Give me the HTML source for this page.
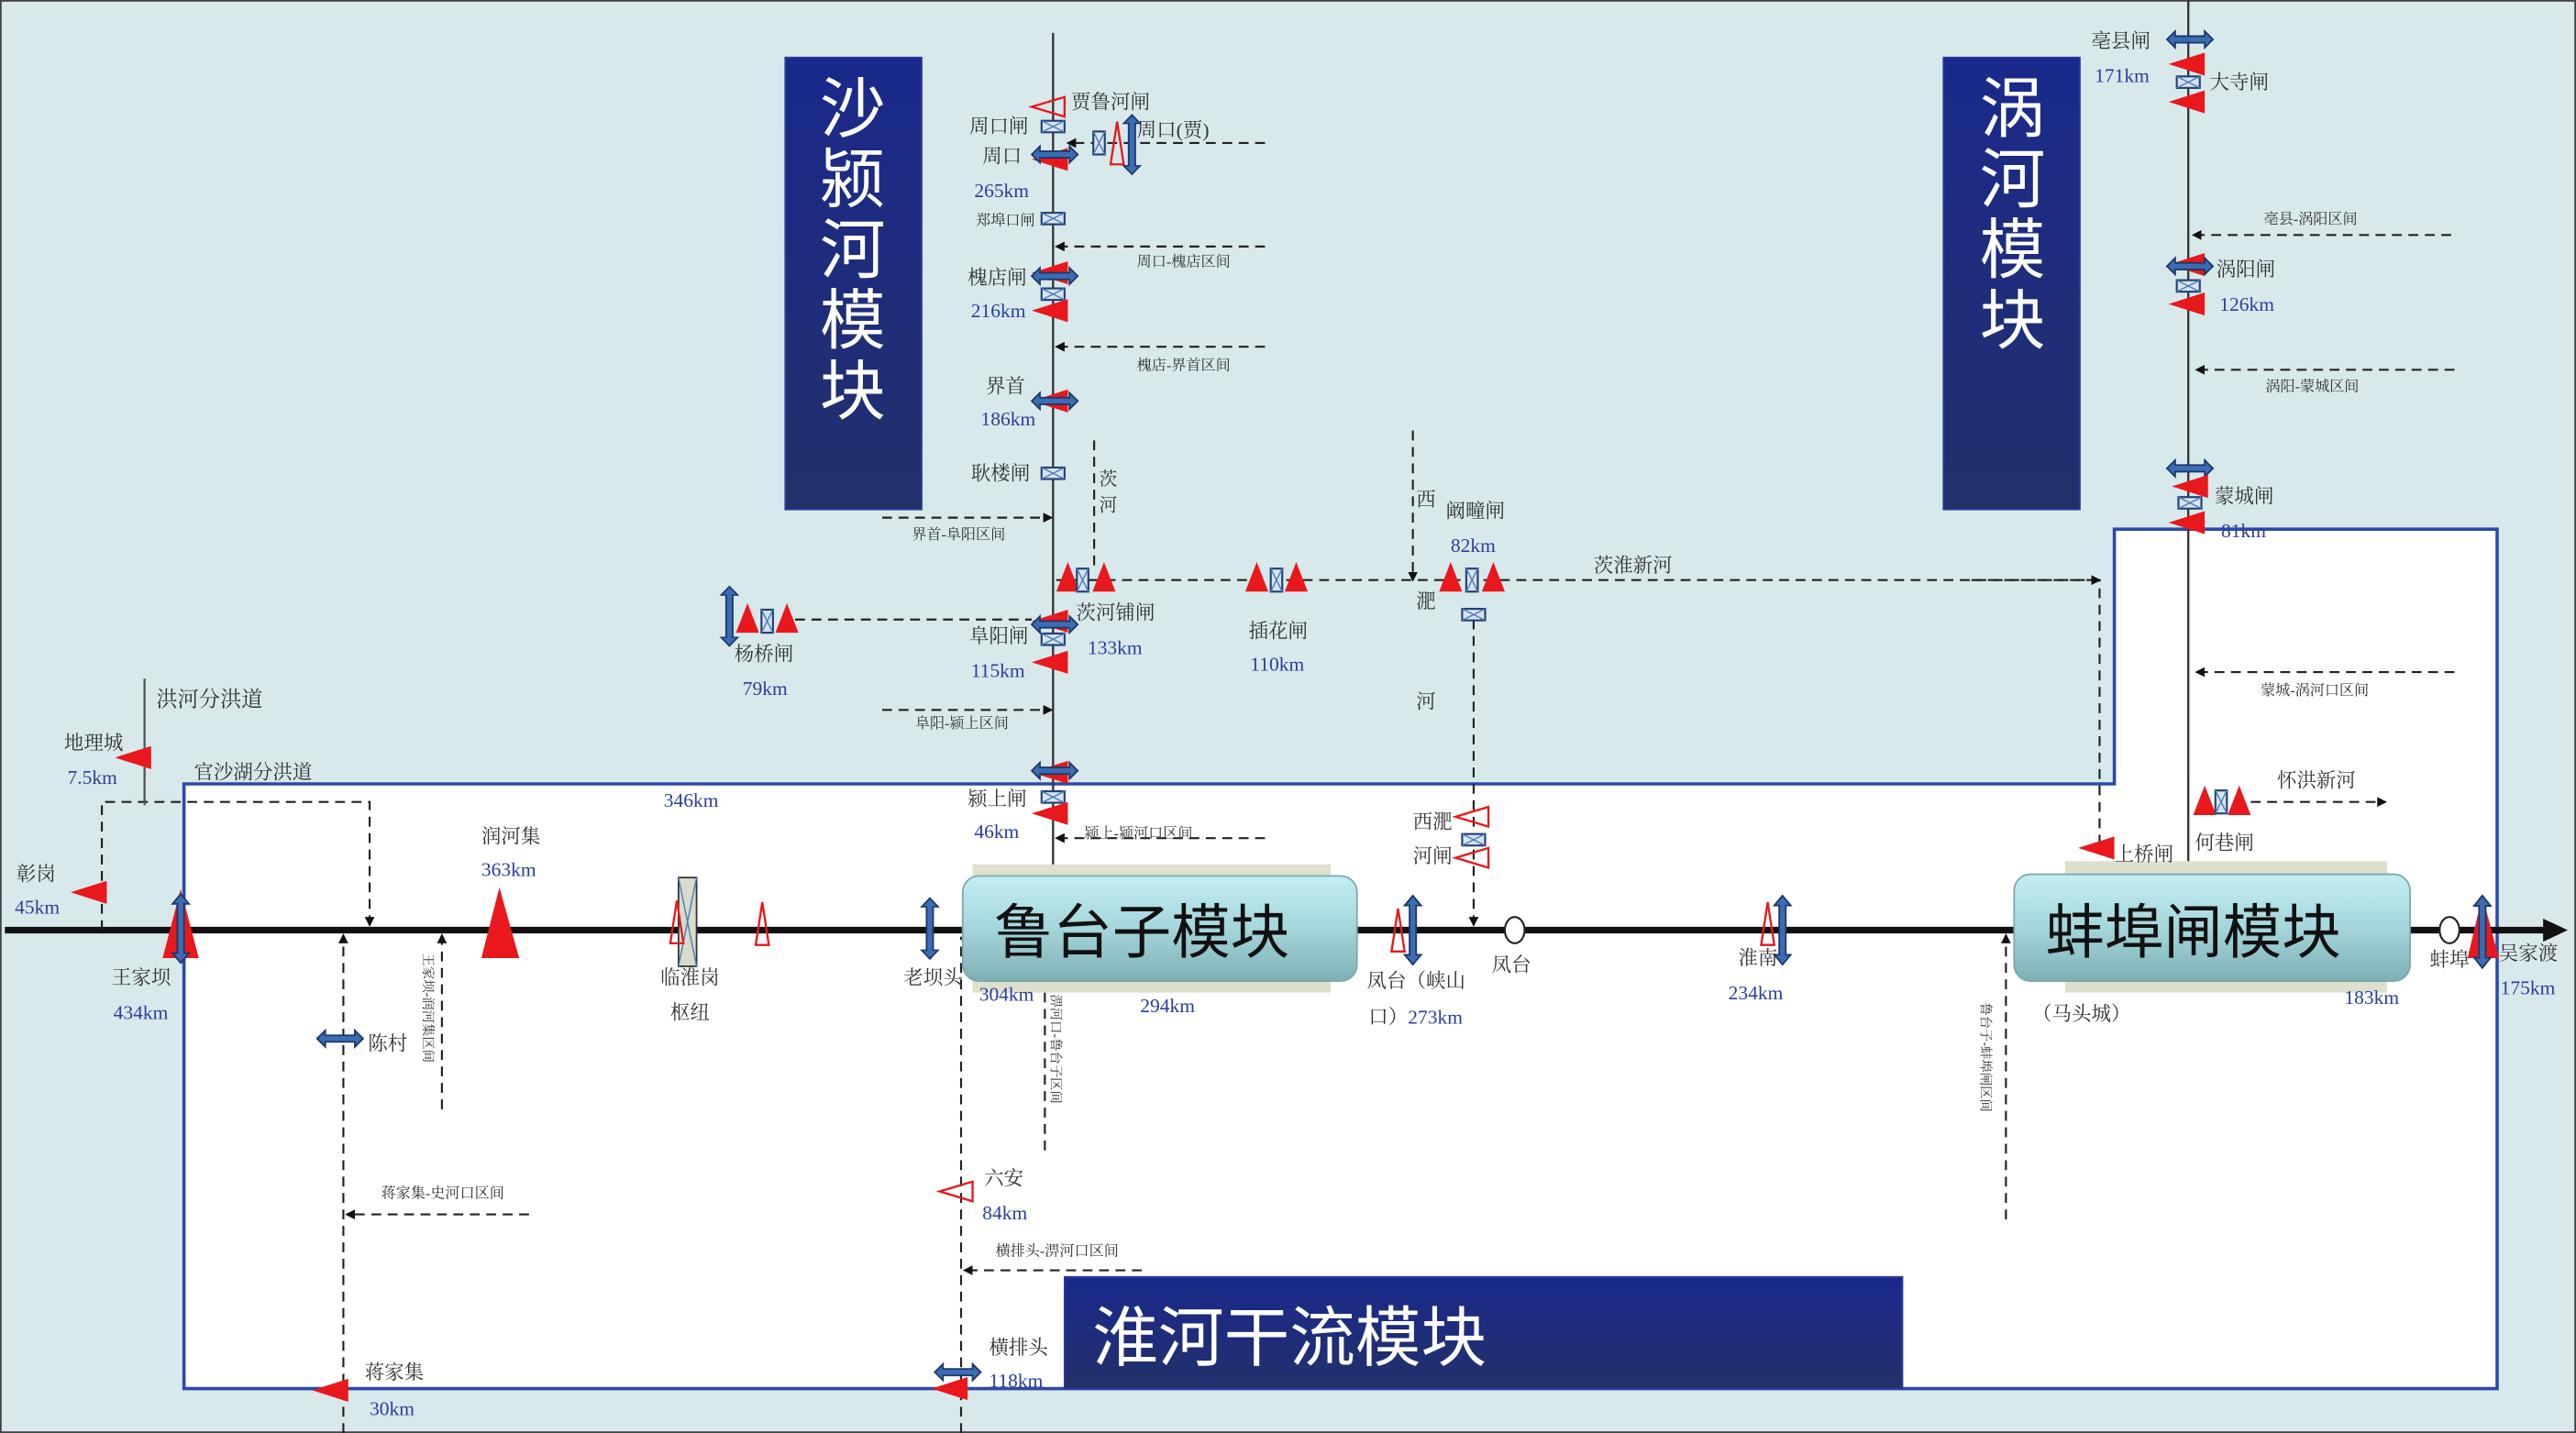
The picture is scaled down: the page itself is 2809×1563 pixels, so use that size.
<!DOCTYPE html>
<html><head><meta charset="utf-8"><style>
html,body{margin:0;padding:0;background:#d8e9ec;}
svg{display:block}
text{font-family:"Liberation Serif","Noto Serif CJK SC",serif;fill:#333;}
.b{fill:#2b3d9c;font-family:"Liberation Serif",serif;}
.s{font-size:9px;}
</style></head><body>
<svg width="2809" height="1563" viewBox="0 0 1568 872" preserveAspectRatio="none" xmlns="http://www.w3.org/2000/svg">
<defs>
<marker id="ar" markerWidth="6" markerHeight="6" refX="5" refY="3" orient="auto" markerUnits="userSpaceOnUse"><path d="M0,0L6,3L0,6z" fill="#111"/></marker>
<g id="dh"><polygon points="-14,0 -9,-5 -9,-2 9,-2 9,-5 14,0 9,5 9,2 -9,2 -9,5" fill="#3a6db3" stroke="#1d3768" stroke-width="1"/></g>
<g id="dv"><polygon points="0,-21 -5,-15 -2,-15 -2,15 -5,15 0,21 5,15 2,15 2,-15 5,-15" fill="#3a6db3" stroke="#1d3768" stroke-width="1"/></g>
<g id="gt"><rect x="-7" y="-3.5" width="14" height="7" fill="#d6e4ee" stroke="#243f73" stroke-width="1.2"/><path d="M-7,-3.5L7,3.5M-7,3.5L7,-3.5" stroke="#4a7cc0" stroke-width="0.8"/></g>
<g id="gv"><rect x="-3.5" y="-7" width="7" height="14" fill="#d6e4ee" stroke="#243f73" stroke-width="1.2"/><path d="M-3.5,-7L3.5,7M-3.5,7L3.5,-7" stroke="#4a7cc0" stroke-width="0.8"/></g>
<polygon id="tl" points="0,0 22,-7 22,7" fill="#e8181c"/>
<polygon id="tu" points="0,-10 -7,8 7,8" fill="#e8181c"/>
<polygon id="hl" points="0,0 20,-6 20,6" fill="none" stroke="#e8181c" stroke-width="1.3"/>
<polygon id="hu" points="0,-13 -4,13 4,13" fill="none" stroke="#e8181c" stroke-width="1.3"/>
<linearGradient id="mb" x1="0" y1="0" x2="0" y2="1"><stop offset="0" stop-color="#1a2a8c"/><stop offset="1" stop-color="#22306a"/></linearGradient>
<linearGradient id="cy" x1="0" y1="0" x2="0" y2="1"><stop offset="0" stop-color="#c4eef2"/><stop offset="0.5" stop-color="#a4d6dc"/><stop offset="1" stop-color="#7eafb5"/></linearGradient>
</defs>
<rect x="0" y="0" width="1568" height="872" fill="#d8e9ec" stroke="#444" stroke-width="2"/>
<!-- blue box -->
<polygon points="112,477 1287,477 1287,322 1520,322 1520,845 112,845" fill="#fff" stroke="#2d4aa8" stroke-width="2"/>

<!-- module boxes -->
<rect x="478" y="35" width="83" height="275" fill="url(#mb)" stroke="#2a3b9a"/>
<text x="519" y="80" font-size="40" text-anchor="middle" style="fill:#fff;font-family:'Noto Sans CJK SC',sans-serif">沙</text>
<text x="519" y="123" font-size="40" text-anchor="middle" style="fill:#fff;font-family:'Noto Sans CJK SC',sans-serif">颍</text>
<text x="519" y="166" font-size="40" text-anchor="middle" style="fill:#fff;font-family:'Noto Sans CJK SC',sans-serif">河</text>
<text x="519" y="209" font-size="40" text-anchor="middle" style="fill:#fff;font-family:'Noto Sans CJK SC',sans-serif">模</text>
<text x="519" y="252" font-size="40" text-anchor="middle" style="fill:#fff;font-family:'Noto Sans CJK SC',sans-serif">块</text>
<rect x="1183" y="35" width="83" height="275" fill="url(#mb)" stroke="#2a3b9a"/>
<text x="1225" y="80" font-size="40" text-anchor="middle" style="fill:#fff;font-family:'Noto Sans CJK SC',sans-serif">涡</text>
<text x="1225" y="123" font-size="40" text-anchor="middle" style="fill:#fff;font-family:'Noto Sans CJK SC',sans-serif">河</text>
<text x="1225" y="166" font-size="40" text-anchor="middle" style="fill:#fff;font-family:'Noto Sans CJK SC',sans-serif">模</text>
<text x="1225" y="209" font-size="40" text-anchor="middle" style="fill:#fff;font-family:'Noto Sans CJK SC',sans-serif">块</text>
<rect x="648" y="777" width="510" height="68" fill="url(#mb)" stroke="#2a3b9a"/>
<text x="665" y="828" font-size="40" style="fill:#fff;font-family:'Noto Sans CJK SC',sans-serif">淮河干流模块</text>

<!-- rivers -->
<line x1="641" y1="20" x2="641" y2="530" stroke="#333" stroke-width="1.3"/>
<line x1="1332" y1="0" x2="1332" y2="530" stroke="#333" stroke-width="1.3"/>
<line x1="3" y1="566" x2="1550" y2="566" stroke="#111" stroke-width="4"/>
<polygon points="1548,559 1563,566 1548,573" fill="#111"/>

<g fill="none" stroke="#222" stroke-width="1.2" stroke-dasharray="6,4">
<path d="M770,87H650" marker-end="url(#ar)"/>
<path d="M770,150H643" marker-end="url(#ar)"/>
<path d="M770,211H643" marker-end="url(#ar)"/>
<path d="M537,315H640" marker-end="url(#ar)"/>
<path d="M537,432H640" marker-end="url(#ar)"/>
<path d="M770,510H643" marker-end="url(#ar)"/>
<path d="M666,268V345"/>
<path d="M643,353H1278V520"/>
<path d="M1200,353H1278" marker-end="url(#ar)"/>
<path d="M860,262V353" marker-end="url(#ar)"/>
<path d="M897,377V563" marker-end="url(#ar)"/>
<path d="M484,377H628"/>
<path d="M62,566V488H225V563" marker-end="url(#ar)"/>
<path d="M209,872V569" marker-end="url(#ar)"/>
<path d="M269,675V569" marker-end="url(#ar)"/>
<path d="M322,739H211" marker-end="url(#ar)"/>
<path d="M585,872V570"/>
<path d="M695,773H587" marker-end="url(#ar)"/>
<path d="M636,700V598"/>
<path d="M1221,742V569" marker-end="url(#ar)"/>
<path d="M1370,488H1452" marker-end="url(#ar)"/>
<path d="M1494,409H1337" marker-end="url(#ar)"/>
<path d="M1492,143H1335" marker-end="url(#ar)"/>
<path d="M1494,225H1337" marker-end="url(#ar)"/>
</g>
<line x1="88" y1="413" x2="88" y2="490" stroke="#555" stroke-width="1.3"/>

<!-- Lutaizi module -->
<rect x="592" y="526" width="218" height="78" fill="#dde0cc"/>
<rect x="586" y="533" width="240" height="64" rx="10" fill="url(#cy)" stroke="#7aa8ae"/>
<text x="605" y="580" font-size="36" style="fill:#111;font-family:'Noto Sans CJK SC',sans-serif">鲁台子模块</text>
<rect x="1257" y="524" width="196" height="80" fill="#dde0cc"/>
<rect x="1226" y="532" width="241" height="65" rx="10" fill="url(#cy)" stroke="#7aa8ae"/>
<text x="1245" y="580" font-size="36" style="fill:#111;font-family:'Noto Sans CJK SC',sans-serif">蚌埠闸模块</text>

<!-- Shaying top -->
<use href="#hl" x="628" y="65"/><text x="652" y="66" font-size="12">贾鲁河闸</text>
<text x="590" y="81" font-size="12">周口闸</text><use href="#gt" x="641" y="77"/>
<use href="#gv" x="669" y="87"/><use href="#hu" x="680" y="87"/>
<g transform="translate(689,88) scale(1,0.86)"><use href="#dv"/></g>
<text x="692" y="83" font-size="12">周口(贾)</text>
<use href="#tl" x="628" y="97"/><use href="#dh" x="642" y="94"/>
<text x="598" y="99" font-size="12">周口</text><text x="593" y="120" font-size="12" class="b">265km</text>
<text x="594" y="137" font-size="9">郑埠口闸</text><use href="#gt" x="641" y="133"/>
<text x="692" y="162" class="s">周口-槐店区间</text>
<use href="#tl" x="628" y="166"/><use href="#dh" x="642" y="168"/><use href="#gt" x="641" y="179"/><use href="#tl" x="628" y="189"/>
<text x="589" y="173" font-size="12">槐店闸</text><text x="591" y="193" font-size="12" class="b">216km</text>
<text x="692" y="225" class="s">槐店-界首区间</text>
<use href="#tl" x="628" y="244"/><use href="#dh" x="642" y="244"/>
<text x="600" y="239" font-size="12">界首</text><text x="597" y="259" font-size="12" class="b">186km</text>
<text x="591" y="292" font-size="12">耿楼闸</text><use href="#gt" x="641" y="288"/>
<text x="669" y="295" font-size="11">茨</text><text x="669" y="311" font-size="11">河</text>
<text x="555" y="328" class="s">界首-阜阳区间</text>
<use href="#tu" x="650" y="352"/><use href="#gv" x="659" y="353"/><use href="#tu" x="672" y="352"/>
<text x="655" y="377" font-size="12">茨河铺闸</text><text x="662" y="398" font-size="12" class="b">133km</text>
<use href="#tu" x="765" y="352"/><use href="#gv" x="777" y="353"/><use href="#tu" x="789" y="352"/>
<text x="760" y="388" font-size="12">插花闸</text><text x="761" y="408" font-size="12" class="b">110km</text>
<text x="862" y="308" font-size="12">西</text><text x="862" y="370" font-size="12">淝</text><text x="862" y="431" font-size="12">河</text>
<text x="880" y="315" font-size="12">阚疃闸</text><text x="883" y="336" font-size="12" class="b">82km</text>
<use href="#tu" x="883" y="352"/><use href="#gv" x="896" y="353"/><use href="#tu" x="909" y="352"/>
<use href="#gt" x="897" y="374"/>
<text x="970" y="348" font-size="12">茨淮新河</text>
<g transform="translate(444,375) scale(1,0.86)"><use href="#dv"/></g>
<use href="#tu" x="455" y="377"/><use href="#gv" x="467" y="378"/><use href="#tu" x="479" y="377"/>
<text x="447" y="402" font-size="12">杨桥闸</text><text x="452" y="423" font-size="12" class="b">79km</text>
<use href="#tl" x="628" y="378"/><use href="#dh" x="642" y="380"/><use href="#gt" x="641" y="389"/><use href="#tl" x="628" y="403"/>
<text x="590" y="391" font-size="12">阜阳闸</text><text x="591" y="412" font-size="12" class="b">115km</text>
<text x="557" y="443" class="s">阜阳-颍上区间</text>
<text x="404" y="491" font-size="12" class="b">346km</text>
<use href="#tl" x="628" y="470"/><use href="#dh" x="642" y="469"/><use href="#gt" x="641" y="485"/><use href="#tl" x="628" y="495"/>
<text x="589" y="490" font-size="12">颍上闸</text><text x="593" y="510" font-size="12" class="b">46km</text>
<text x="660" y="510" class="s">颍上-颍河口区间</text>

<!-- left -->
<text x="95" y="430" font-size="13">洪河分洪道</text>
<text x="39" y="456" font-size="12">地理城</text><text x="41" y="477" font-size="12" class="b">7.5km</text>
<use href="#tl" x="70" y="461"/>
<text x="118" y="474" font-size="12">官沙湖分洪道</text>
<text x="10" y="536" font-size="12">彰岗</text><text x="9" y="556" font-size="12" class="b">45km</text>
<use href="#tl" x="43" y="543"/>
<polygon points="110,541 99,583 121,583" fill="#e8181c"/>
<use href="#dv" x="110" y="565"/>
<text x="68" y="599" font-size="12">王家坝</text><text x="69" y="620" font-size="12" class="b">434km</text>
<use href="#dh" x="207" y="632"/><text x="224" y="639" font-size="12">陈村</text>
<text transform="translate(258,580) rotate(90)" font-size="8">王家坝-润河集区间</text>
<text x="293" y="513" font-size="12">润河集</text><text x="293" y="533" font-size="12" class="b">363km</text>
<polygon points="304,540 293,583 316,583" fill="#e8181c"/>
<rect x="413" y="534" width="11" height="54" fill="#d9dccb" stroke="#333" stroke-width="1"/>
<path d="M413,534L424,588M424,534L413,588" stroke="#4a7cc0" stroke-width="0.8"/>
<use href="#hu" x="412" y="561"/><use href="#hu" x="464" y="562"/>
<text x="402" y="599" font-size="12">临淮岗</text><text x="408" y="620" font-size="12">枢纽</text>
<g transform="translate(566,565) scale(1,0.88)"><use href="#dv"/></g>
<text x="550" y="599" font-size="12">老坝头</text>
<text x="596" y="609" font-size="12" class="b">304km</text>
<text x="694" y="616" font-size="12" class="b">294km</text>
<text transform="translate(640,605) rotate(90)" font-size="8">淠河口-鲁台子区间</text>
<text x="222" y="839" font-size="12">蒋家集</text><text x="225" y="861" font-size="12" class="b">30km</text>
<use href="#tl" x="190" y="846"/>
<text x="232" y="729" class="s">蒋家集-史河口区间</text>
<use href="#hl" x="572" y="725"/>
<text x="599" y="721" font-size="12">六安</text><text x="598" y="742" font-size="12" class="b">84km</text>
<text x="606" y="764" class="s">横排头-淠河口区间</text>
<use href="#dh" x="583" y="835"/><use href="#tl" x="567" y="845"/>
<text x="602" y="824" font-size="12">横排头</text><text x="602" y="844" font-size="12" class="b">118km</text>

<!-- middle -->
<use href="#hu" x="851" y="566"/><use href="#dv" x="860" y="566"/>
<text x="832" y="601" font-size="12">凤台（峡山</text><text x="833" y="623" font-size="12">口）<tspan class="b">273km</tspan></text>
<text x="860" y="504" font-size="12">西淝</text><text x="860" y="525" font-size="12">河闸</text>
<use href="#hl" x="886" y="497"/><use href="#gt" x="897" y="511"/><use href="#hl" x="886" y="522"/>
<ellipse cx="922" cy="566" rx="6" ry="8" fill="#fff" stroke="#222" stroke-width="1.2"/>
<text x="908" y="591" font-size="12">凤台</text>
<use href="#hu" x="1076" y="562"/><use href="#dv" x="1085" y="566"/>
<text x="1058" y="587" font-size="12">淮南</text><text x="1052" y="608" font-size="12" class="b">234km</text>
<text transform="translate(1206,610) rotate(90)" font-size="8">鲁台子-蚌埠闸区间</text>

<!-- right -->
<use href="#tl" x="1265" y="516"/><text x="1287" y="524" font-size="12">上桥闸</text>
<use href="#tu" x="1342" y="488"/><use href="#gv" x="1352" y="488"/><use href="#tu" x="1363" y="488"/>
<text x="1336" y="517" font-size="12">何巷闸</text>
<text x="1386" y="479" font-size="12">怀洪新河</text>
<text x="1376" y="423" class="s">蒙城-涡河口区间</text>
<text x="1237" y="621" font-size="12">（马头城）</text>
<text x="1427" y="611" font-size="12" class="b">183km</text>
<ellipse cx="1491" cy="566" rx="6" ry="8" fill="#fff" stroke="#222" stroke-width="1.2"/>
<text x="1479" y="588" font-size="12">蚌埠</text>
<polygon points="1511,545 1502,583 1521,583" fill="#e8181c"/>
<g transform="translate(1511,567) scale(1,1.05)"><use href="#dv"/></g>
<text x="1521" y="584" font-size="12">吴家渡</text><text x="1522" y="605" font-size="12" class="b">175km</text>

<!-- Guo -->
<text x="1273" y="29" font-size="12">亳县闸</text><text x="1275" y="50" font-size="12" class="b">171km</text>
<use href="#dh" x="1333" y="24"/><use href="#tl" x="1320" y="39"/><use href="#gt" x="1332" y="50"/><use href="#tl" x="1320" y="62"/>
<text x="1345" y="54" font-size="12">大寺闸</text>
<text x="1378" y="136" class="s">亳县-涡阳区间</text>
<use href="#tl" x="1320" y="161"/><use href="#dh" x="1333" y="162"/><use href="#gt" x="1332" y="174"/><use href="#tl" x="1320" y="185"/>
<text x="1349" y="168" font-size="12">涡阳闸</text><text x="1351" y="189" font-size="12" class="b">126km</text>
<text x="1379" y="238" class="s">涡阳-蒙城区间</text>
<use href="#dh" x="1333" y="285"/><use href="#tl" x="1322" y="296"/><use href="#gt" x="1333" y="306"/><use href="#tl" x="1320" y="318"/>
<text x="1348" y="306" font-size="12">蒙城闸</text><text x="1352" y="327" font-size="12" class="b">81km</text>
</svg>
</body></html>
